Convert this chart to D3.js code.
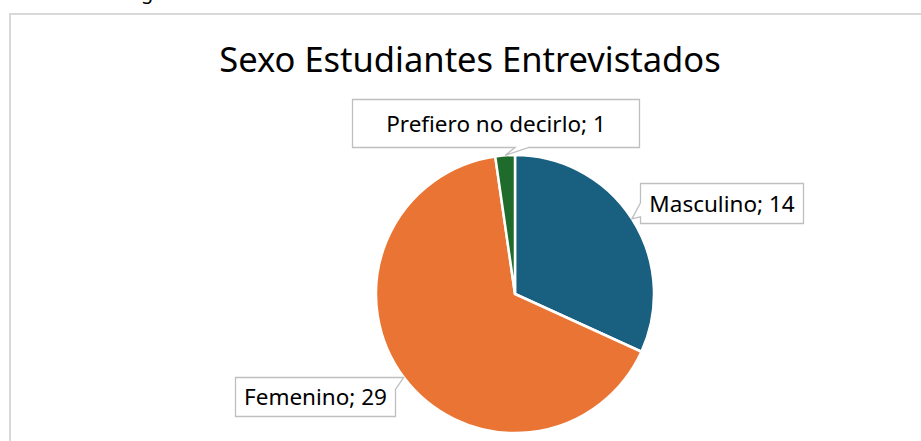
<!DOCTYPE html>
<html>
<head>
<meta charset="utf-8">
<script src="https://cdn.jsdelivr.net/npm/d3@7"></script>
<style>
  html, body { margin: 0; padding: 0; background: #fff; }
  svg { display: block; }
  text { font-family: "Noto Sans", "Open Sans", sans-serif; }
</style>
</head>
<body>
<svg id="chart" width="921" height="441"></svg>
<script>
const title = "Sexo Estudiantes Entrevistados";
const categories = ["Masculino", "Femenino", "Prefiero no decirlo"];
const values = [14, 29, 1];
const colors = ["#185f80", "#ea7434", "#1e6b2b"];

const W = 921, H = 441;
const svg = d3.select("#chart");

// stray descender of text above the chart
svg.append("text").attr("x", 141).attr("y", -1).attr("font-size", 20).attr("fill", "#000").text("g");

// chart area border
svg.append("rect")
  .attr("x", 10).attr("y", 14).attr("width", 940).attr("height", 460)
  .attr("fill", "#fff").attr("stroke", "#d9d9d9").attr("stroke-width", 2);

svg.append("text")
  .attr("x", 470).attr("y", 72)
  .attr("text-anchor", "middle")
  .attr("font-size", 34.5)
  .attr("fill", "#000")
  .text(title);

const cx = 515, cy = 294, r = 139;
const data = categories.map((c, i) => ({ name: c, value: values[i], color: colors[i] }));
const pie = d3.pie().sort(null).value(d => d.value);
const arcs = pie(data);
const arc = d3.arc().innerRadius(0).outerRadius(r);

const g = svg.append("g").attr("transform", `translate(${cx},${cy})`);
g.selectAll("path.slice").data(arcs).join("path")
  .attr("class", "slice")
  .attr("d", arc)
  .attr("fill", d => d.data.color)
  .attr("stroke", "#fff")
  .attr("stroke-width", 2.5)
  .attr("stroke-linejoin", "round");

// label layout (box offsets relative to the pointer tip on the arc edge)
const layout = {
  "Masculino": { dx: 8, dy: -36, w: 163, h: 40, side: "left" },
  "Femenino": { dx: -169, dy: 0, w: 160, h: 39, side: "topright" },
  "Prefiero no decirlo": { dx: -153, dy: -56, w: 287, h: 48, side: "bottom" }
};

function calloutPath(x, y, w, h, tx, ty, side) {
  const p = d3.path();
  if (side === "bottom") {
    const b1 = tx + 10, b2 = tx + 24;
    p.moveTo(x, y); p.lineTo(x + w, y); p.lineTo(x + w, y + h);
    p.lineTo(b2, y + h); p.lineTo(tx, ty); p.lineTo(b1, y + h);
    p.lineTo(x, y + h); p.closePath();
  } else if (side === "left") {
    const a1 = ty - 16, a2 = ty - 2;
    p.moveTo(x, y); p.lineTo(x + w, y); p.lineTo(x + w, y + h);
    p.lineTo(x, y + h); p.lineTo(x, a2); p.lineTo(tx, ty); p.lineTo(x, a1);
    p.closePath();
  } else {
    const c1 = x + w - 10, c2 = y + 12;
    p.moveTo(x, y); p.lineTo(c1, y); p.lineTo(tx, ty); p.lineTo(x + w, c2);
    p.lineTo(x + w, y + h); p.lineTo(x, y + h); p.closePath();
  }
  return p.toString();
}

const labels = svg.append("g");
arcs.forEach(a => {
  const mid = (a.startAngle + a.endAngle) / 2;
  const tx = cx + r * Math.sin(mid);
  const ty = cy - r * Math.cos(mid);
  const L = layout[a.data.name];
  const x = Math.round(tx + L.dx) + 0.5, y = Math.round(ty + L.dy) + 0.5;
  labels.append("path")
    .attr("d", calloutPath(x, y, L.w, L.h, tx, ty, L.side))
    .attr("fill", "#fff")
    .attr("stroke", "#bfbfbf")
    .attr("stroke-width", 1.3);
  labels.append("text")
    .attr("x", x + L.w / 2)
    .attr("y", y + L.h / 2)
    .attr("dy", "0.36em")
    .attr("text-anchor", "middle")
    .attr("font-size", 22.5)
    .attr("fill", "#000")
    .text(`${a.data.name}; ${a.data.value}`);
});
</script>
</body>
</html>
